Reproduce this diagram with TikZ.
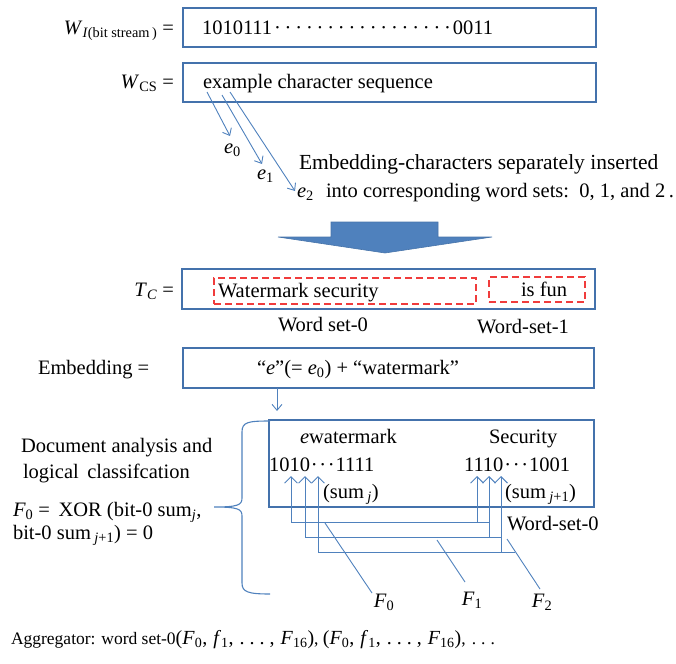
\documentclass[tikz,border=0pt]{standalone}
\usepackage{fontspec}
\setmainfont{Liberation Serif}
\usetikzlibrary{arrows.meta}
\definecolor{lineblue}{RGB}{79,129,189}
\definecolor{frameblue}{RGB}{68,114,172}
\definecolor{dashred}{RGB}{240,60,60}
\newcommand\sbs[1]{\textsubscript{#1}}
\newcommand\dotgap{\kern1.9pt·\kern1.9pt}
\newcommand\threedots{\kern1pt·\kern1.6pt·\kern1.6pt·\kern1pt}
% one feature tuple of the aggregator line
\newcommand\ftuple{{\fontsize{20}{24}\selectfont(\textit{F}\sbs{0},\hspace{6pt}\textit{f}\sbs{1},\hspace{6pt}.\hspace{5pt}.\hspace{5pt}.\hspace{5pt},\hspace{6pt}\textit{F}\sbs{16})}}
\begin{document}
\begin{tikzpicture}[x=1pt,y=-1pt,
  font=\fontsize{20.5}{24}\selectfont,
  frame/.style={draw=frameblue, line width=1.2pt, inner sep=0pt, outer sep=0pt},
  redbox/.style={draw=dashred, line width=1.1pt, dash pattern=on 7pt off 4pt, inner sep=0pt},
  lbl/.style={inner sep=0pt, outer sep=0pt, text height=13.5pt, text depth=0.5pt},
  link/.style={draw=lineblue, line width=0.9pt},
  arr/.style={link, -{Straight Barb[length=6pt,width=10pt]}},
  uparr/.style={link, -{Straight Barb[length=6.5pt,width=13pt]}},
  bigarrow/.style={fill=lineblue, draw=lineblue!90!black, line width=0.6pt}]
\useasboundingbox (0,0) rectangle (676,663);

% ---- input bit stream and character sequence
\node[lbl, anchor=east] (wil) at (174,28) {\textit{W}\sbs{\textit{I}(bit stream\,)} =};
\node[frame, minimum width=413pt, minimum height=39pt] (wi) at (389.5,27.5) {};
\node[lbl, anchor=west] (wit) at (202,28) {1010111\dotgap\dotgap\dotgap\dotgap\dotgap\dotgap\dotgap\dotgap\dotgap\dotgap\dotgap\dotgap\dotgap\dotgap\dotgap\dotgap\dotgap0011};

\node[lbl, anchor=east] (wcl) at (174,82) {\textit{W}\sbs{CS} =};
\node[frame, minimum width=413pt, minimum height=39pt] (wc) at (389.5,82.5) {};
\node[lbl, anchor=west] (wct) at (203,82) {example character sequence};

% ---- embedding characters
\coordinate (s0) at (207,92);
\coordinate (s1) at (222,95);
\coordinate (s2) at (230,92);
\coordinate (t0) at (230,136);
\coordinate (t1) at (262,164);
\coordinate (t2) at (295,191);
\draw[arr] (s0) -- (t0);
\draw[arr] (s1) -- (t1);
\draw[arr] (s2) -- (t2);
\node[lbl, anchor=west] (e0) at (224,147) {\textit{e}\sbs{0}};
\node[lbl, anchor=west] (e1) at (257,173) {\textit{e}\sbs{1}};
\node[lbl, anchor=west] (e2) at (297,191) {\textit{e}\sbs{2}};
\node[lbl, anchor=west, font=\fontsize{21.5}{24}\selectfont] (emb1) at (299,163) {Embedding-characters separately inserted};
\node[lbl, anchor=west] (emb2) at (326,191) {into corresponding word sets:\, 0, 1, and 2\,.};

% ---- block arrow
\filldraw[bigarrow] (331,222) -- (438,222) -- (438,237) -- (492,237) -- (385,253)
  -- (278,237) -- (331,237) -- cycle;

% ---- text with word sets
\node[lbl, anchor=east] (tcl) at (174,290) {\textit{T}\sbs{\textit{C}} =};
\node[frame, minimum width=413pt, minimum height=40pt] (tc) at (388.5,289) {};
\node[redbox, minimum width=262pt, minimum height=26pt] (ws0) at (345,291) {};
\node[redbox, minimum width=96pt, minimum height=25pt] (ws1) at (537,289.5) {};
\node[lbl, anchor=west] (ws0t) at (218,291) {Watermark security};
\node[lbl, anchor=west] (ws1t) at (521,290) {is fun};
\node[lbl] (ws0l) at (323,325) {Word set-0};
\node[lbl] (ws1l) at (523,327) {Word-set-1};

% ---- embedding
\node[lbl, anchor=west] (eml) at (38,368) {Embedding =};
\node[frame, minimum width=411pt, minimum height=40pt] (em) at (388.5,368) {};
\node[lbl, anchor=west] (emt) at (257,368) {“\textit{e}”(= \textit{e}\sbs{0}) + “watermark”};
\coordinate (emo) at (277,388);
\coordinate (emi) at (277,411);
\draw[arr] (emo) -- (emi);

% ---- analysed word pair
\node[frame, minimum width=325pt, minimum height=87pt] (an) at (431.5,463.5) {};
\node[lbl, anchor=west] (w1) at (300,437) {\textit{e}watermark};
\node[lbl, anchor=west] (w2) at (489,437) {Security};
\node[lbl, anchor=west] (b1) at (269,465) {1010\threedots1111};
\node[lbl, anchor=west] (b2) at (464,465) {1110\threedots1001};
\node[lbl, anchor=west] (sj) at (323,492) {(sum\,\sbs{\textit{j}})};
\node[lbl, anchor=west] (sj1) at (505,492) {(sum\,\sbs{\textit{j}+1})};
\node[lbl, anchor=west] (wsr) at (507,524) {Word-set-0};

% bit positions
\coordinate (bl0) at (291,476);
\coordinate (bl1) at (305,476);
\coordinate (bl2) at (318,476);
\coordinate (br0) at (477,476);
\coordinate (br1) at (489,476);
\coordinate (br2) at (501,476);
% horizontal levels
\coordinate (h1) at (0,522);
\coordinate (h2) at (0,537);
\coordinate (h3) at (0,552);
\coordinate (h1e) at (489,522);
\coordinate (h2e) at (502,537);
\coordinate (h3e) at (515,552);

\draw[link] (bl0 |- h1) -- (h1e);
\draw[link] (bl1 |- h2) -- (h2e);
\draw[link] (bl2 |- h3) -- (h3e);
\draw[uparr] (bl0 |- h1) -- (bl0);
\draw[uparr] (bl1 |- h2) -- (bl1);
\draw[uparr] (bl2 |- h3) -- (bl2);
\draw[uparr] (br0 |- h1) -- (br0);
\draw[uparr] (br1 |- h2) -- (br1);
\draw[uparr] (br2 |- h3) -- (br2);

% feature labels
\node[lbl] (f0) at (384,601) {\textit{F}\sbs{0}};
\node[lbl] (f1) at (472,599) {\textit{F}\sbs{1}};
\node[lbl] (f2) at (542,601) {\textit{F}\sbs{2}};
\coordinate (f0s) at (325,523);
\coordinate (f1s) at (437,540);
\coordinate (f2s) at (507,539);
\coordinate (f0e) at (372,593);
\coordinate (f1e) at (465,582);
\coordinate (f2e) at (540,589);
\draw[link] (f0s) -- (f0e);
\draw[link] (f1s) -- (f1e);
\draw[link] (f2s) -- (f2e);

% ---- brace and classification text
\coordinate (brt) at (270,421);
\coordinate (brm) at (214,507);
\coordinate (brb) at (270,594);
\draw[link, line width=1.1pt] (brt) .. controls (248,421) and (242,422) .. (242,432)
  -- (242,498) .. controls (242,505) and (238,507) .. (brm)
  (brm) .. controls (238,507) and (242,509) .. (242,516)
  -- (242,583) .. controls (242,592) and (248,594) .. (brb);
\node[lbl, anchor=west] (da1) at (21,446) {Document analysis and};
\node[lbl, anchor=west] (da2) at (23,472) {logical\, classifcation};
\node[lbl, anchor=west] (fx1) at (13,510) {\textit{F}\sbs{0} =\, XOR (bit-0 sum\sbs{\textit{j}},};
\node[lbl, anchor=west] (fx2) at (13,533) {bit-0 sum\,\sbs{\textit{j}+1}) = 0};

% ---- aggregator
\node[lbl, anchor=west, font=\fontsize{17.5}{20}\selectfont] (agg) at (11,638)
  {Aggregator: word set-0\ftuple, \ftuple,\hspace{6pt}.\hspace{5pt}.\hspace{5pt}.};
\end{tikzpicture}
\end{document}
